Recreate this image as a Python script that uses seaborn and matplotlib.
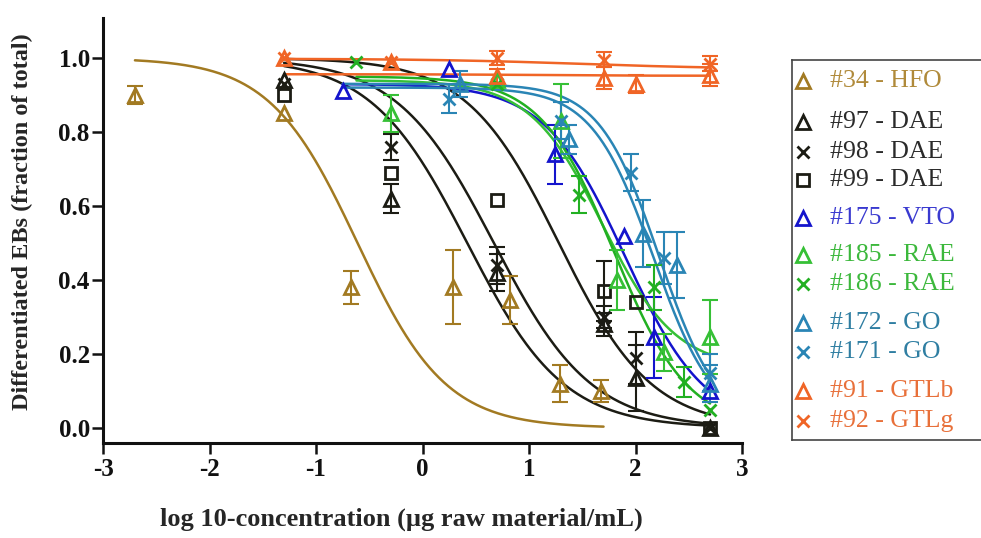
import numpy as np
import pandas as pd
import matplotlib
matplotlib.use("Agg")
import matplotlib.pyplot as plt
import seaborn as sns

# ---------------- data ----------------
labels = ["#34 - HFO", "#97 - DAE", "#98 - DAE", "#99 - DAE", "#175 - VTO",
          "#185 - RAE", "#186 - RAE", "#172 - GO", "#171 - GO", "#91 - GTLb", "#92 - GTLg"]

hfo_x = [-2.7, -1.3, -0.67, 0.29, 0.82, 1.29, 1.68]
hfo_y = [0.90, 0.85, 0.38, 0.38, 0.345, 0.12, 0.10]
hfo_e = [0.025, 0.0, 0.045, 0.10, 0.065, 0.05, 0.03]

dae_x = [-1.3, -0.3, 0.7, 1.7, 2.0, 2.7]
d97_y = [0.94, 0.62, 0.42, 0.28, 0.135, 0.0]
d97_e = [0.0, 0.04, 0.05, 0.03, 0.09, 0.0]
d98_y = [0.93, 0.76, 0.44, 0.30, 0.19, 0.0]
d98_e = [0.0, 0.035, 0.05, 0.03, 0.07, 0.0]
d99_y = [0.90, 0.69, 0.615, 0.37, 0.34, 0.0]
d99_e = [0.0, 0.0, 0.0, 0.08, 0.0, 0.0]

vto_x = [-0.75, 0.25, 1.24, 1.89, 2.17, 2.7]
vto_y = [0.91, 0.97, 0.74, 0.52, 0.245, 0.10]
vto_e = [0.0, 0.0, 0.08, 0.0, 0.11, 0.0]

r185_x = [-0.3, 0.7, 1.3, 1.83, 2.27, 2.7]
r185_y = [0.85, 0.94, 0.83, 0.40, 0.205, 0.245]
r185_e = [0.05, 0.0, 0.10, 0.08, 0.05, 0.10]
r186_x = [-0.62, 0.7, 1.47, 2.17, 2.46, 2.7]
r186_y = [0.99, 0.93, 0.63, 0.38, 0.125, 0.05]
r186_e = [0.0, 0.0, 0.05, 0.06, 0.04, 0.0]

g172_x = [0.35, 1.38, 2.07, 2.39, 2.7]
g172_y = [0.93, 0.78, 0.525, 0.44, 0.12]
g172_e = [0.035, 0.04, 0.09, 0.09, 0.05]
g171_x = [0.25, 1.3, 1.96, 2.27, 2.7]
g171_y = [0.89, 0.83, 0.69, 0.46, 0.15]
g171_e = [0.04, 0.05, 0.05, 0.07, 0.05]

t91_x = [-1.3, -0.3, 0.7, 1.7, 2.0, 2.7]
t91_y = [1.0, 0.99, 0.95, 0.946, 0.93, 0.955]
t91_e = [0.0, 0.0, 0.02, 0.03, 0.025, 0.03]
t92_x = [-1.3, -0.3, 0.7, 1.7, 2.7]
t92_y = [1.0, 0.99, 1.0, 0.995, 0.985]
t92_e = [0.0, 0.0, 0.02, 0.02, 0.02]

# fitted curve parameters: top, bottom, logEC50, hill slope, x start, x end
fit_top = [1.0, 1.0, 1.0, 1.0, 0.93, 0.94, 0.95, 0.92, 0.93, 0.956, 0.998]
fit_bottom = [0.0, 0.0, 0.0, 0.0, 0.0, 0.16, 0.0, 0.0, 0.0, 0.952, 0.97]
fit_ec50 = [-0.61, 0.42, 0.67, 1.28, 1.9, 1.69, 1.8, 2.17, 2.22, 1.0, 1.5]
fit_hill = [1.05, 0.96, 0.95, 1.0, 1.15, 1.27, 1.25, 1.5, 1.55, 1.0, 0.6]
fit_x0 = [-2.7, -1.3, -1.3, -1.3, -0.75, -0.62, -0.62, -0.75, -0.75, -1.3, -1.3]
fit_x1 = [1.7, 2.7, 2.7, 2.7, 2.7, 2.7, 2.7, 2.7, 2.7, 2.7, 2.7]

# ---------------- styles ----------------
c_hfo = "#A27A22"
c_dae = "#1c1c14"
c_vto = "#1414CC"
c_rae1 = "#36C036"
c_rae2 = "#22B022"
c_go = "#2A85B5"
c_gtl = "#F06526"
colors = [c_hfo, c_dae, c_dae, c_dae, c_vto, c_rae1, c_rae2, c_go, c_go, c_gtl, c_gtl]
text_colors = ["#B08A3A", "#2a2a2a", "#2a2a2a", "#2a2a2a", "#3a3ad0", "#3cb83c", "#3cb83c",
               "#2F7EA2", "#2F7EA2", "#E8703A", "#E8703A"]
markers = ["^", "^", "x", "s", "^", "^", "x", "^", "x", "^", "x"]

series = [(hfo_x, hfo_y, hfo_e), (dae_x, d97_y, d97_e), (dae_x, d98_y, d98_e),
          (dae_x, d99_y, d99_e), (vto_x, vto_y, vto_e), (r185_x, r185_y, r185_e),
          (r186_x, r186_y, r186_e), (g172_x, g172_y, g172_e), (g171_x, g171_y, g171_e),
          (t91_x, t91_y, t91_e), (t92_x, t92_y, t92_e)]

sns.set_style("ticks")
plt.rcParams["font.family"] = ["Liberation Serif", "DejaVu Serif"]

W, H = 981, 538
fig = plt.figure(figsize=(W / 100, H / 100), dpi=100)
ax = fig.add_axes([103 / W, 95 / H, 639 / W, 425 / H])


def hill(x, top, bottom, ec50, h):
    return bottom + (top - bottom) / (1 + 10 ** ((x - ec50) * h))


def mstyle(m, c):
    if m == "x":
        return dict(marker="x", ms=8.5, mew=2.0, color=c)
    if m == "s":
        return dict(marker="s", ms=9, mew=2.0, mfc="none", mec=c)
    return dict(marker="^", ms=10, mew=2.0, mfc="none", mec=c)


# curves
for i in range(len(labels)):
    xs = np.linspace(fit_x0[i], fit_x1[i], 300)
    ys = hill(xs, fit_top[i], fit_bottom[i], fit_ec50[i], fit_hill[i])
    df = pd.DataFrame({"x": xs, "y": ys})
    sns.lineplot(data=df, x="x", y="y", color=colors[i], lw=1.8, ax=ax, zorder=2)

# points + error bars
for i, (xs, ys, es) in enumerate(series):
    xs, ys, es = np.array(xs), np.array(ys), np.array(es)
    m = es > 0
    if m.any():
        ax.errorbar(xs[m], ys[m], yerr=es[m], fmt="none", ecolor=colors[i],
                    elinewidth=1.5, capsize=6, capthick=1.5, zorder=3)
    ax.plot(xs, ys, ls="none", zorder=4, **mstyle(markers[i], colors[i]))

ax.set_xlim(-3, 3)
ax.set_ylim(-0.0405, 1.108)
ax.set_xticks([-3, -2, -1, 0, 1, 2, 3])
ax.set_xticklabels(["-3", "-2", "-1", "0", "1", "2", "3"])
ax.set_yticks([0.0, 0.2, 0.4, 0.6, 0.8, 1.0])
ax.set_yticklabels(["0.0", "0.2", "0.4", "0.6", "0.8", "1.0"])
sns.despine(ax=ax)
for s in ["left", "bottom"]:
    ax.spines[s].set_linewidth(2.2)
    ax.spines[s].set_color("#111111")
ax.tick_params(axis="both", direction="out", length=8, width=1.8, colors="#111111",
               labelsize=18, pad=1.5)
ax.tick_params(axis="x", pad=3)
for t in ax.get_xticklabels() + ax.get_yticklabels():
    t.set_fontweight("bold")
ax.set_xlabel("log 10-concentration (\u00b5g raw material/mL)", fontsize=19,
              fontweight="bold")
ax.set_ylabel("Differentiated EBs (fraction of total)", fontsize=17.5,
              fontweight="bold")
ax.xaxis.set_label_coords((401 - 103) / 639, (H - 508 - 95) / 425)
ax.yaxis.set_label_coords((33 - 103) / 639, (H - 222 - 95) / 425)

# legend box (manual)
lax = fig.add_axes([792 / W, (H - 440) / H, (W + 5 - 792) / W, 380 / H])
lax.set_xlim(792, W + 5)
lax.set_ylim(440, 60)
lax.set_xticks([])
lax.set_yticks([])
for s in lax.spines.values():
    s.set_linewidth(1.2)
    s.set_color("#444444")
leg_y = [81, 122, 152, 180, 218, 255, 284, 323, 352, 391, 421]
for i in range(len(labels)):
    st = mstyle(markers[i], colors[i])
    lax.plot([803], [leg_y[i]], ls="none", **st)
    lax.text(830, leg_y[i], labels[i], color=text_colors[i], fontsize=18.5,
             va="center", ha="left")

fig.savefig("out.png", dpi=100)
